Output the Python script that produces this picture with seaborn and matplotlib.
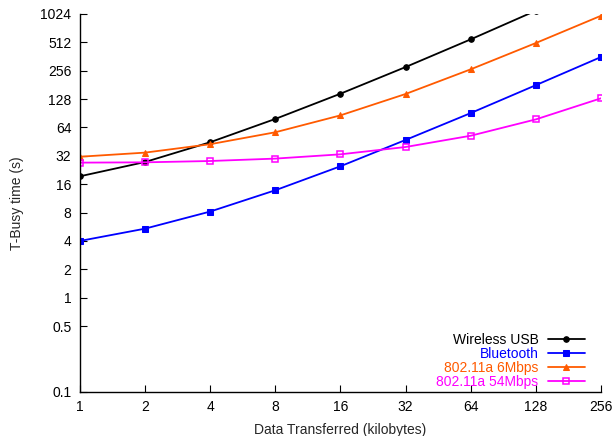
import numpy as np
import pandas as pd
import matplotlib
matplotlib.use("Agg")
import matplotlib.pyplot as plt
import seaborn as sns

# data
kb = [1, 2, 4, 8, 16, 32, 64, 128, 256]
wusb = [19.4, 27.5, 44.6, 78.8, 146, 280, 551, 1110]
bluetooth = [4.0, 5.4, 8.2, 13.8, 24.8, 47.2, 91, 180, 358]
wifi6 = [31.3, 34.6, 42.5, 56.9, 86, 145, 265, 504, 981]
wifi54 = [27.1, 27.3, 28.2, 29.9, 33.2, 39.7, 52.3, 78, 130.6]

yticks = [0.1, 0.5, 1, 2, 4, 8, 16, 32, 64, 128, 256, 512, 1024]
ytick_labels = ["0.1", "0.5", "1", "2", "4", "8", "16", "32", "64", "128", "256", "512", "1024"]

sns.set_style("ticks")
plt.rcParams["font.family"] = ["Liberation Sans", "DejaVu Sans"]
plt.rcParams["font.size"] = 10

fig = plt.figure(figsize=(6.14, 4.36), dpi=100)
ax = fig.add_axes([0.130, 0.101, 0.849, 0.867])

orange = "#ff5a00"
sns.lineplot(x=kb[:len(wusb)], y=wusb, ax=ax, color="black", marker="o", markersize=4,
             markeredgecolor="black", linewidth=1.3, label="Wireless USB")
sns.lineplot(x=kb, y=bluetooth, ax=ax, color="blue", marker="s", markersize=4,
             markeredgecolor="blue", linewidth=1.3, label="Bluetooth")
sns.lineplot(x=kb, y=wifi6, ax=ax, color=orange, marker="^", markersize=5,
             markeredgecolor=orange, linewidth=1.3, label="802.11a 6Mbps")
sns.lineplot(x=kb, y=wifi54, ax=ax, color="magenta", marker="s", markersize=5,
             markerfacecolor="none", markeredgecolor="magenta", markeredgewidth=1.1,
             linewidth=1.3, label="802.11a 54Mbps")

ax.set_xscale("log", base=2)
ax.set_yscale("log", base=2)
ax.set_xlim(1, 256)
ax.set_ylim(0.1, 1024)
ax.set_xticks(kb)
ax.set_xticklabels([str(k) for k in kb])
ax.set_yticks(yticks)
ax.set_yticklabels(ytick_labels)
ax.minorticks_off()
ax.tick_params(direction="in", length=5, width=0.8, labelsize=10, pad=6, colors="black")
sns.despine(ax=ax)
for s in ["left", "bottom"]:
    ax.spines[s].set_linewidth(1.0)
    ax.spines[s].set_color("black")

ax.set_xlabel("Data Transferred (kilobytes)", fontsize=10, labelpad=6)
ax.set_ylabel("T-Busy time (s)", fontsize=10, labelpad=12)

ax.legend(loc="lower right", bbox_to_anchor=(0.98, -0.006), frameon=False,
          markerfirst=False, labelcolor="linecolor", fontsize=10,
          handlelength=2.7, labelspacing=0.0, borderaxespad=0.0, handletextpad=0.65)

fig.savefig("out.png", dpi=100)
